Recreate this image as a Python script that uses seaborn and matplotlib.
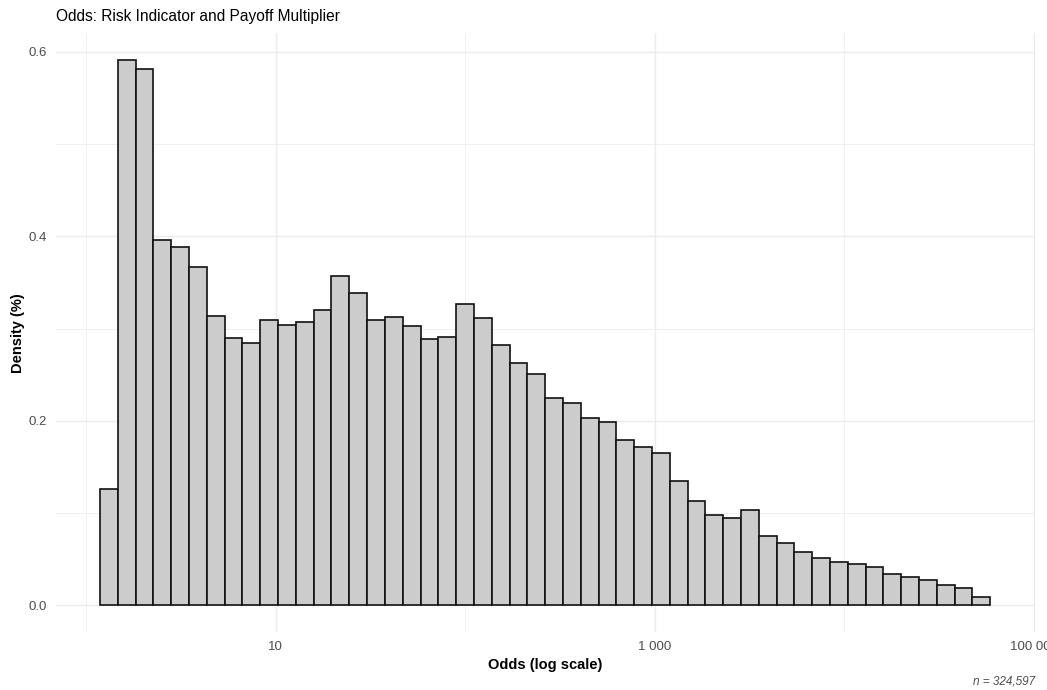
import numpy as np
import pandas as pd
import matplotlib
matplotlib.use("Agg")
import matplotlib.pyplot as plt
import seaborn as sns
from matplotlib.ticker import FixedLocator, FixedFormatter, NullFormatter

# ---------------- data ----------------
odds_min = 1.186        # lower edge of the first bin
odds_max = 58750        # upper edge of the last bin
n_bins = 50
density = [
    0.126, 0.591, 0.582, 0.396, 0.388, 0.367, 0.314, 0.290, 0.284, 0.309,
    0.304, 0.307, 0.320, 0.357, 0.338, 0.309, 0.312, 0.303, 0.289, 0.291,
    0.327, 0.311, 0.282, 0.263, 0.251, 0.225, 0.219, 0.203, 0.199, 0.179,
    0.171, 0.165, 0.135, 0.113, 0.098, 0.094, 0.103, 0.075, 0.067, 0.058,
    0.051, 0.047, 0.044, 0.041, 0.034, 0.030, 0.027, 0.022, 0.019, 0.009,
]
x_breaks = [10, 1000, 100000]
x_labels = ["10", "1 000", "100 000"]
x_minor = [1, 100, 10000]
y_breaks = [0.0, 0.2, 0.4, 0.6]
y_labels = ["0.0", "0.2", "0.4", "0.6"]
y_minor = [0.1, 0.3, 0.5]
title = "Odds: Risk Indicator and Payoff Multiplier"
x_title = "Odds (log scale)"
y_title = "Density (%)"
caption = "n = 324,597"

# ---------------- build table ----------------
lo_log, hi_log = np.log10(odds_min), np.log10(odds_max)
edges_log = np.linspace(lo_log, hi_log, n_bins + 1)
centers = 10 ** ((edges_log[:-1] + edges_log[1:]) / 2)
df = pd.DataFrame({
    "odds": np.concatenate([[odds_min], centers, [odds_max]]),
    "w": [0.0] + density + [0.0],
})

# ---------------- style ----------------
sns.set_theme(style="white")
plt.rcParams["font.family"] = ["Liberation Sans", "DejaVu Sans"]

W, H = 1047, 690
fig = plt.figure(figsize=(W / 100, H / 100), dpi=100)
px_left, px_right, px_top, px_bottom = 55.5, 1034.8, 33.0, 632.3
ax = fig.add_axes([px_left / W, 1 - px_bottom / H,
                   (px_right - px_left) / W, (px_bottom - px_top) / H])

sns.histplot(data=df, x="odds", weights="w", bins=n_bins, log_scale=10,
             stat="count", color="#CCCCCC", edgecolor="#111111",
             linewidth=1.2, alpha=1, fill=True, ax=ax)

span = hi_log - lo_log
ax.set_xlim(10 ** (lo_log - 0.05 * span), 10 ** (hi_log + 0.05 * span))
ymax = max(density)
ax.set_ylim(-0.05 * ymax, ymax * 1.05)

ax.xaxis.set_major_locator(FixedLocator(x_breaks))
ax.xaxis.set_major_formatter(FixedFormatter(x_labels))
ax.xaxis.set_minor_locator(FixedLocator(x_minor))
ax.xaxis.set_minor_formatter(NullFormatter())
ax.yaxis.set_major_locator(FixedLocator(y_breaks))
ax.yaxis.set_major_formatter(FixedFormatter(y_labels))
ax.yaxis.set_minor_locator(FixedLocator(y_minor))
ax.yaxis.set_minor_formatter(NullFormatter())

ax.set_axisbelow(True)
ax.grid(which="major", color="#EBEBEB", linewidth=1.0)
ax.grid(which="minor", color="#EBEBEB", linewidth=0.55)
ax.tick_params(which="both", length=0, labelsize=9.5, labelcolor="#4D4D4D")
ax.tick_params(axis="y", pad=6)
ax.tick_params(axis="x", pad=6)
for s in ax.spines.values():
    s.set_visible(False)

ax.set_xlabel(x_title, fontsize=10.5, fontweight="bold", color="black", labelpad=4)
ax.set_ylabel(y_title, fontsize=10.5, fontweight="bold", color="black", labelpad=3)
ax.set_title(title, loc="left", fontsize=11.2, color="black", pad=9)

fig.text(1035 / W, 1 - 681 / H, caption, ha="right", va="center",
         fontsize=8.5, style="italic", color="#4D4D4D")

fig.savefig("out.png", dpi=100, facecolor="white")
